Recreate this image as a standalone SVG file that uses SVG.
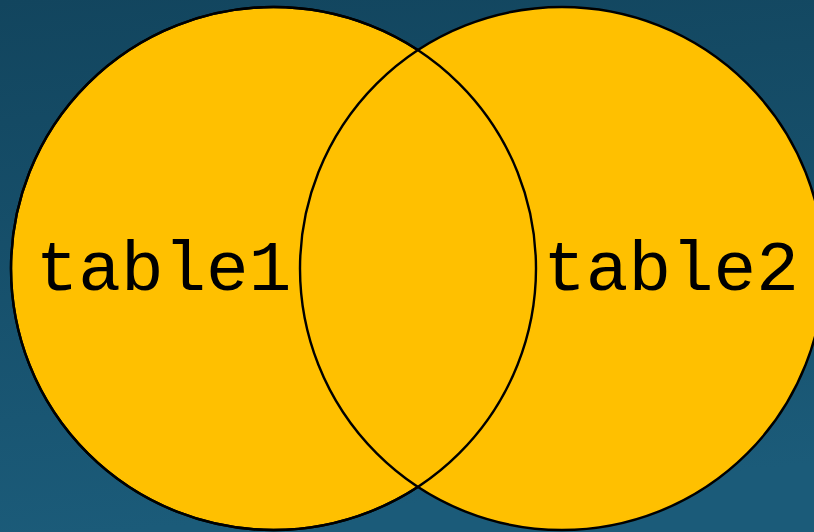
<svg xmlns="http://www.w3.org/2000/svg" width="814" height="532" viewBox="0 0 814 532">
<defs>
<linearGradient id="bg" x1="0" y1="0" x2="0.15" y2="1">
<stop offset="0" stop-color="#12455e"/>
<stop offset="1" stop-color="#1b5b79"/>
</linearGradient>
</defs>
<style>
.set{fill:#ffc000;stroke:#000;stroke-width:2.4}
.outline{fill:none;stroke:#000;stroke-width:2.4}
.lbl{font-family:"Liberation Mono","Courier New",monospace;font-size:71px;fill:#000;text-anchor:middle}
</style>
<rect width="814" height="532" fill="url(#bg)"/>
<g id="table1">
<ellipse class="set" cx="273.5" cy="268.5" rx="262.5" ry="261.5"/>
</g>
<g id="table2">
<ellipse class="set" cx="562" cy="268.5" rx="262" ry="261.5"/>
<ellipse class="outline" cx="273.5" cy="268.5" rx="262.5" ry="261.5"/>
</g>
<g id="labels">
<text class="lbl" x="163.5" y="290">table1</text>
<text class="lbl" x="671" y="290">table2</text>
</g>
</svg>
